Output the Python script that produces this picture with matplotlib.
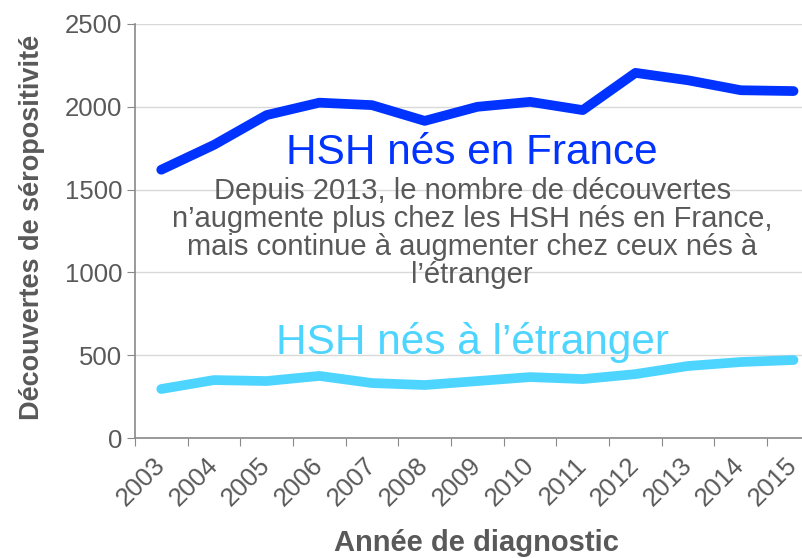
import matplotlib.pyplot as plt

plt.rcParams['font.family'] = ['Liberation Sans', 'DejaVu Sans']

annees = ['2003', '2004', '2005', '2006', '2007', '2008', '2009',
          '2010', '2011', '2012', '2013', '2014', '2015']
hsh_france = [1620, 1770, 1950, 2025, 2010, 1915, 2000, 2030, 1980, 2205, 2160, 2100, 2095]
hsh_etranger = [296, 350, 344, 375, 332, 320, 344, 368, 356, 386, 435, 459, 471]

gris = '#595959'

fig = plt.figure(figsize=(8.03, 5.58), dpi=100)
ax = fig.add_axes([0.168, 0.215, 0.853, 0.742])

x = list(range(len(annees)))
ax.plot(x, hsh_france, color='#0033FF', linewidth=7, solid_capstyle='round', solid_joinstyle='round')
ax.plot(x, hsh_etranger, color='#4DD5FF', linewidth=7, solid_capstyle='round', solid_joinstyle='round')

ax.set_xlim(-0.5, 12.5)
ax.set_ylim(0, 2500)
ax.set_yticks([0, 500, 1000, 1500, 2000, 2500])
ax.yaxis.grid(True, color='#D9D9D9', linewidth=1)
ax.set_axisbelow(True)

ax.set_xticks([i - 0.5 for i in range(14)])
ax.set_xticklabels([])
ax.set_xticks(x, minor=True)
ax.set_xticklabels(annees, minor=True, rotation=45, ha='right', va='center',
                   rotation_mode='anchor', fontsize=18.5, color=gris)
ax.tick_params(axis='x', which='minor', length=0, pad=17)
ax.tick_params(axis='x', which='major', length=6, color='#898989')
ax.tick_params(axis='y', length=6, color='#898989', labelsize=18.5, labelcolor=gris, pad=3)

for s in ['top', 'right']:
    ax.spines[s].set_visible(False)
for s in ['left', 'bottom']:
    ax.spines[s].set_color('#898989')
    ax.spines[s].set_linewidth(1.2)

ax.set_ylabel('Découvertes de séropositivité', fontsize=19.5, fontweight='bold', color=gris, va='center')
ax.yaxis.set_label_coords(-0.150, 0.508)
ax.set_xlabel('Année de diagnostic', fontsize=21, fontweight='bold', color=gris, va='center')
ax.xaxis.set_label_coords(0.499, -0.254)

ax.text(5.9, 1722, 'HSH nés en France', fontsize=30.5, color='#0033FF', ha='center', va='center')
ax.text(5.9, 1235, 'Depuis 2013, le nombre de découvertes\n'
        'n\u2019augmente plus chez les HSH nés en France,\n'
        'mais continue à augmenter chez ceux nés à\n'
        'l\u2019étranger', fontsize=21, color=gris, ha='center', va='center', linespacing=1.0)
ax.text(5.9, 575, 'HSH nés à l\u2019étranger', fontsize=30.5, color='#4DD5FF', ha='center', va='center')

fig.savefig('out.png', dpi=100)
